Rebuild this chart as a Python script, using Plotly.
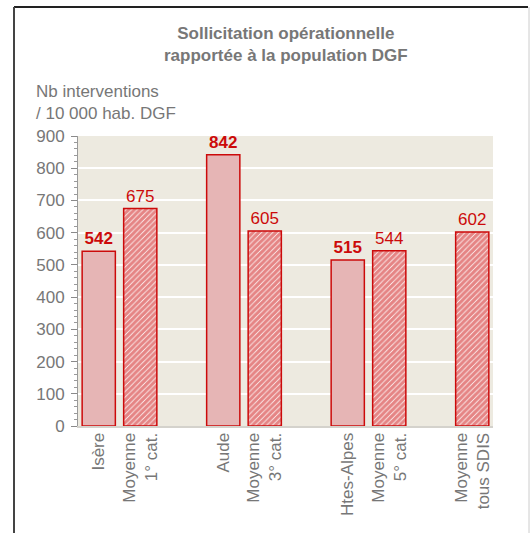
import plotly.graph_objects as go

# --- data -------------------------------------------------------------------

categories = [
    "Isère",
    "Moyenne<br>1° cat.",
    "Aude",
    "Moyenne<br>3° cat.",
    "Htes-Alpes",
    "Moyenne<br>5° cat.",
    "Moyenne<br>tous SDIS",
]
values = [542, 675, 842, 605, 515, 544, 602]
is_average = [False, True, False, True, False, True, True]
group = [0, 0, 1, 1, 2, 2, 3]  # pairs are separated by one empty slot

y_ticks = [0, 100, 200, 300, 400, 500, 600, 700, 800, 900]

# --- layout constants (pixels) --------------------------------------------------

W, H = 531, 533
L, R, T, B = 78, 38, 136, 107
PW, PH = W - L - R, H - T - B

RED = "#cc0a0a"
PINK = "#e6b5b5"
GRAY = "#777777"
FONT = "Liberation Sans, Arial, sans-serif"


def px_x(x):
    return (x - L) / PW


def px_y(y):
    return (H - B - y) / PH


slots = [i + g for i, g in enumerate(group)]

fig = go.Figure()

for avg in (False, True):
    idx = [i for i in range(len(values)) if is_average[i] == avg]
    xs = [slots[i] for i in idx]
    ys = [values[i] for i in idx]
    txt = [str(values[i]) if avg else f"<b>{values[i]}</b>" for i in idx]
    if avg:
        marker = dict(
            color="white",
            line=dict(color=RED, width=1.5),
            pattern=dict(shape="/", fgcolor=RED, bgcolor="white", size=4, solidity=0.8),
        )
    else:
        marker = dict(color=PINK, line=dict(color=RED, width=1.5))
    fig.add_bar(
        x=xs,
        y=ys,
        text=txt,
        textposition="outside",
        textfont=dict(color=RED, size=17, family=FONT),
        marker=marker,
        width=0.8,
        cliponaxis=False,
        showlegend=False,
        hoverinfo="skip",
    )

fig.update_layout(
    width=W,
    height=H,
    margin=dict(l=L, r=R, t=T, b=B, pad=0),
    paper_bgcolor="white",
    plot_bgcolor="#edeae0",
    font=dict(family=FONT, color=GRAY, size=17),
    bargap=0.2,
    xaxis=dict(
        range=[-0.5, 9.5],
        tickmode="array",
        tickvals=slots,
        ticktext=categories,
        tickangle=-90,
        ticks="",
        showgrid=False,
        zeroline=False,
        showline=True,
        linecolor="#d4d2cc",
        linewidth=2,
        ticklabelstandoff=-2,
        tickfont=dict(size=17, color=GRAY),
    ),
    yaxis=dict(
        range=[0, 900],
        tickvals=y_ticks,
        showgrid=True,
        gridcolor="white",
        gridwidth=2,
        zeroline=False,
        showline=True,
        linecolor="#9a9a9a",
        linewidth=1,
        ticks="outside",
        ticklen=6,
        tickcolor="#8a8a8a",
        ticklabelstandoff=3,
        minor=dict(dtick=20, ticks="outside", ticklen=3, tickcolor="#9a9a9a", showgrid=False),
        tickfont=dict(size=17, color=GRAY),
    ),
    annotations=[
        dict(
            text="<b>Sollicitation opérationnelle<br>rapportée à la population DGF</b>",
            xref="paper", yref="paper",
            x=px_x(286), y=px_y(22),
            xanchor="center", yanchor="top",
            showarrow=False,
            font=dict(size=17, color=GRAY),
        ),
        dict(
            text="Nb interventions<br>/ 10 000 hab. DGF",
            xref="paper", yref="paper",
            x=px_x(34), y=px_y(80),
            xanchor="left", yanchor="top",
            align="left",
            showarrow=False,
            font=dict(size=17, color=GRAY),
        ),
    ],
    shapes=[
        # frame around the chart
        dict(type="line", xref="paper", yref="paper",
             x0=px_x(14), x1=px_x(528), y0=px_y(7), y1=px_y(7),
             line=dict(color="#222222", width=2)),
        dict(type="line", xref="paper", yref="paper",
             x0=px_x(14), x1=px_x(14), y0=px_y(7), y1=px_y(540),
             line=dict(color="#444444", width=2)),
        dict(type="line", xref="paper", yref="paper",
             x0=px_x(529), x1=px_x(529), y0=px_y(7), y1=px_y(540),
             line=dict(color="#cccccc", width=1)),
    ],
)

# drop the default body margin so the figure sits at the page origin
fig.write_html(
    "out.html",
    config={"displayModeBar": False},
    post_script="document.body.style.margin='0px';document.body.style.overflow='hidden';",
)
